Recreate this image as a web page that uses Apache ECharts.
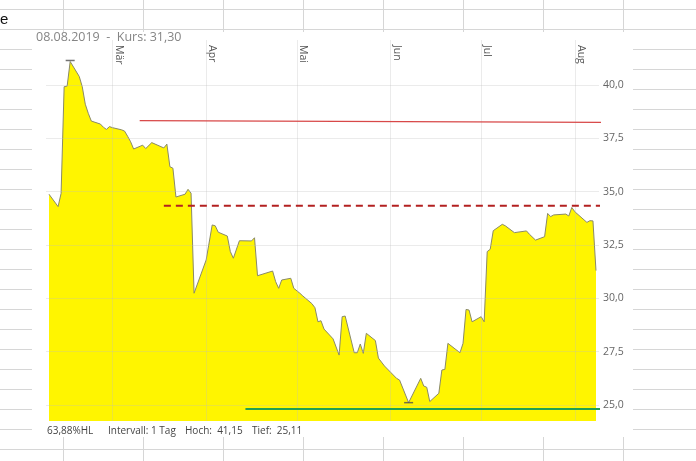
<!DOCTYPE html>
<html>
<head>
<meta charset="utf-8">
<script src="https://cdn.jsdelivr.net/npm/echarts@6/dist/echarts.min.js"></script>
<style>
html,body{margin:0;padding:0;background:#fff;}
#c{width:696px;height:461px;}
</style>
</head>
<body>
<div id="c"></div>
<script>
// ---- data ----
const dates = [
'2019-02-08','2019-02-11','2019-02-12','2019-02-13','2019-02-14','2019-02-15','2019-02-18','2019-02-19','2019-02-20','2019-02-21','2019-02-22',
'2019-02-25','2019-02-26','2019-02-27','2019-02-28','2019-03-01','2019-03-04','2019-03-05','2019-03-06','2019-03-07','2019-03-08',
'2019-03-11','2019-03-12','2019-03-14','2019-03-18','2019-03-19','2019-03-20','2019-03-21','2019-03-22','2019-03-25','2019-03-26',
'2019-03-27','2019-03-28','2019-04-01','2019-04-03','2019-04-04','2019-04-05','2019-04-08','2019-04-09','2019-04-10','2019-04-12',
'2019-04-16','2019-04-17','2019-04-18','2019-04-23','2019-04-24','2019-04-25','2019-04-26','2019-04-29','2019-04-30','2019-05-02',
'2019-05-03','2019-05-06','2019-05-07','2019-05-08','2019-05-09','2019-05-10','2019-05-13','2019-05-15','2019-05-16','2019-05-17',
'2019-05-20','2019-05-21','2019-05-22','2019-05-23','2019-05-24','2019-05-27','2019-05-28','2019-05-30','2019-06-03','2019-06-04',
'2019-06-07','2019-06-11','2019-06-12','2019-06-13','2019-06-14','2019-06-17','2019-06-18','2019-06-19','2019-06-20','2019-06-24',
'2019-06-25','2019-06-26','2019-06-27','2019-06-28','2019-07-01','2019-07-02','2019-07-03','2019-07-04','2019-07-05','2019-07-08',
'2019-07-09','2019-07-12','2019-07-16','2019-07-17','2019-07-19','2019-07-22','2019-07-23','2019-07-24','2019-07-25','2019-07-29',
'2019-07-30','2019-07-31','2019-08-01','2019-08-05','2019-08-06','2019-08-07','2019-08-08'
];
const closes = [
34.88,34.30,34.92,39.92,39.95,41.10,40.40,39.92,39.10,38.67,38.31,
38.17,38.02,37.92,38.05,38.00,37.90,37.84,37.60,37.34,37.00,
37.18,37.02,37.30,37.05,37.23,36.17,36.10,34.75,34.88,35.11,
34.93,30.24,31.80,33.44,33.40,33.10,32.92,32.19,31.88,32.70,
32.69,32.84,31.06,31.28,30.78,30.47,30.86,30.94,30.47,30.24,
30.11,29.75,29.56,28.90,28.95,28.56,28.10,27.34,29.14,29.17,
27.45,27.45,27.86,27.42,28.36,28.02,27.20,26.83,26.25,26.17,
25.11,26.25,25.89,25.83,25.16,25.55,26.64,26.67,27.89,27.45,
27.89,29.48,29.45,28.90,29.14,28.90,32.19,32.30,33.17,33.47,
33.40,33.08,33.16,33.00,32.73,32.89,33.98,33.83,33.91,33.95,
33.86,34.26,34.06,33.56,33.64,33.63,31.30
];
const highLow = [['2019-02-15', 41.15], ['2019-06-07', 25.11]];
const trendSolid = [['2019-03-10', 38.33], ['2019-08-10', 38.25]];
const trendDashed = [['2019-03-18', 34.34], ['2019-08-10', 34.34]];
const supportLine = [['2019-04-14', 24.81], ['2019-08-28', 24.81]];
const monthStarts = ['2019-03-01','2019-04-01','2019-05-01','2019-06-01','2019-07-01','2019-08-01'];
const monthLabels = ['Mär','Apr','Mai','Jun','Jul','Aug'];
const yTicks = [25, 27.5, 30, 32.5, 35, 37.5, 40];
const headerText = '08.08.2019  -  Kurs: 31,30';
const footerTexts = ['63,88%HL', 'Intervall: 1 Tag', 'Hoch:  41,15', 'Tief:  25,11'];

// ---- build ----
const DAY = 86400000;
const ts = s => new Date(s + 'T00:00:00').getTime();
const monthTs = monthStarts.map(ts);
const toPts = arr => arr.map(p => [ts(p[0]), p[1]]);
const series0 = dates.map((d, i) => [ts(d), closes[i]]);
const fmtDe = v => v.toFixed(1).replace('.', ',');
const xMin = ts('2019-02-07'), xMax = ts('2019-08-09');
const labelShift = 2 * DAY; // month names sit just right of their gridline

const gridColor = '#d6d6d6';
const graphics = [];
for (let k = 0; k <= 22; k++) {
  const y = 9 + 20 * k + 0.5;
  graphics.push({type:'line', silent:true, shape:{x1:0, y1:y, x2:696, y2:y}, style:{stroke:gridColor, lineWidth:1}});
}
for (let k = 0; k <= 7; k++) {
  const x = 63 + 80 * k + 0.5;
  graphics.push({type:'line', silent:true, shape:{x1:x, y1:0, x2:x, y2:461}, style:{stroke:gridColor, lineWidth:1}});
}
graphics.push({type:'rect', silent:true, shape:{x:32, y:32, width:601, height:405}, style:{fill:'#ffffff'}});
graphics.push({type:'text', silent:true, x:0, y:20, style:{text:'e', font:'15px "Liberation Sans"', fill:'#111', verticalAlign:'middle'}});
graphics.push({type:'text', silent:true, x:36, y:37, style:{text:headerText, font:'12.5px "Open Sans"', fill:'#858585', verticalAlign:'middle'}});
const footX = [47, 108, 185, 252];
footerTexts.forEach((t, i) => {
  graphics.push({type:'text', silent:true, x:footX[i], y:431, style:{text:t, font:'10px "Open Sans"', fill:'#444', verticalAlign:'middle'}});
});

const chart = echarts.init(document.getElementById('c'), null, {renderer:'canvas'});
chart.setOption({
  animation:false,
  backgroundColor:'#ffffff',
  graphic:{elements:graphics},
  grid:{left:46, right:97, top:40, bottom:40},
  xAxis:[
    {
      type:'value', position:'top', min:xMin, max:xMax,
      axisLine:{show:false}, axisTick:{show:false}, splitLine:{show:false}, axisLabel:{show:false}
    },
    {
      type:'value', position:'top', min:xMin - labelShift, max:xMax - labelShift,
      axisLine:{show:false}, axisTick:{show:false}, splitLine:{show:false},
      axisLabel:{
        inside:true, rotate:90, margin:5,
        customValues:monthTs,
        color:'#555', fontSize:10.5, fontFamily:'"Open Sans"',
        formatter:function(v){ const i = monthTs.indexOf(v); return i >= 0 ? monthLabels[i] : ''; }
      }
    }
  ],
  yAxis:{
    type:'value', position:'right', min:24.25, max:42.11,
    axisLine:{show:false}, axisTick:{show:false}, splitLine:{show:false},
    axisLabel:{customValues:yTicks, formatter:fmtDe, color:'#666', fontSize:10.5, fontFamily:'"Open Sans"', margin:4}
  },
  series:[
    {
      type:'line', data:series0, showSymbol:false, z:2,
      lineStyle:{color:'#8a8a68', width:1},
      areaStyle:{color:'#fff500', opacity:1, origin:'start'}
    },
    {
      type:'line', data:series0, showSymbol:false, z:3, silent:true,
      lineStyle:{opacity:0},
      markLine:{
        silent:true, symbol:'none', label:{show:false}, animation:false,
        lineStyle:{color:'rgba(190,190,190,0.3)', type:'solid', width:1},
        emphasis:{disabled:true},
        data:[].concat(yTicks.map(v => ({yAxis:v})), monthTs.map(t => ({xAxis:t})))
      }
    },
    {
      type:'line', data:toPts(trendSolid), showSymbol:false, clip:false, z:5, silent:true,
      lineStyle:{color:'#d84848', width:1.3}
    },
    {
      type:'line', data:toPts(trendDashed), showSymbol:false, clip:false, z:5, silent:true,
      lineStyle:{color:'#b32020', width:2, type:[7,5]}
    },
    {
      type:'line', data:toPts(supportLine), showSymbol:false, clip:false, z:5, silent:true,
      lineStyle:{color:'#21a052', width:2}
    },
    {
      type:'scatter', data:toPts(highLow), symbol:'rect', symbolSize:[9,1.5], z:6, silent:true,
      itemStyle:{color:'#505050'}
    }
  ]
});
</script>
</body>
</html>
